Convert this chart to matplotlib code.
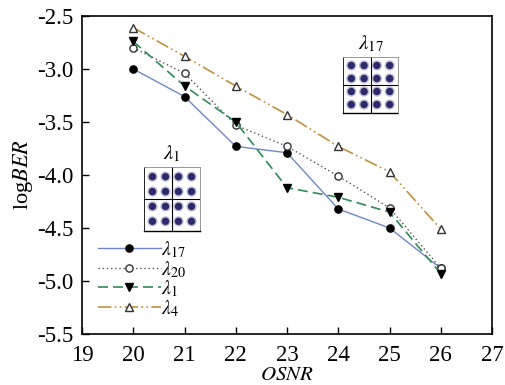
import matplotlib
matplotlib.use("Agg")
import matplotlib.pyplot as plt
import numpy as np

plt.rcParams['font.family'] = ['Liberation Serif', 'DejaVu Serif']
plt.rcParams['mathtext.fontset'] = 'stix'

osnr = [20, 21, 22, 23, 24, 25, 26]
ber_l17 = [-3.00, -3.26, -3.73, -3.79, -4.32, -4.50, -4.88]
ber_l20 = [-2.80, -3.04, -3.53, -3.73, -4.01, -4.31, -4.88]
ber_l1 = [-2.74, -3.16, -3.50, -4.12, -4.21, -4.35, -4.93]
ber_l4 = [-2.61, -2.88, -3.16, -3.43, -3.73, -3.97, -4.51]

xticks = [19, 20, 21, 22, 23, 24, 25, 26, 27]
yticks = [-2.5, -3.0, -3.5, -4.0, -4.5, -5.0, -5.5]
qam_levels = [-3, -1, 1, 3]

fig = plt.figure(figsize=(5.05, 3.85), dpi=100)
ax = fig.add_axes([82/505, 1-334/385, (492-82)/505, (334-16)/385])

ms = 5.2
ax.plot(osnr, ber_l17, color='#7088c8', lw=1.0, ls='-', marker='o', ms=ms,
        mfc='black', mec='black', label=r'$\lambda_{17}$')
ax.plot(osnr, ber_l20, color='#555555', lw=1.0, ls=(0, (1, 2)), marker='o', ms=ms,
        mfc='white', mec='#333333', label=r'$\lambda_{20}$')
ax.plot(osnr, ber_l1, color='#2e8b57', lw=1.2, ls=(0, (6, 3)), marker='v', ms=ms,
        mfc='black', mec='black', label=r'$\lambda_{1}$')
ax.plot(osnr, ber_l4, color='#c09040', lw=1.2, ls=(0, (8, 2, 1, 2, 1, 2)), marker='^', ms=ms,
        mfc='white', mec='#333333', label=r'$\lambda_{4}$')

ax.set_xlim(19, 27)
ax.set_ylim(-5.5, -2.5)
ax.set_xticks(xticks)
ax.set_yticks(yticks)
ax.set_xticklabels([str(v) for v in xticks])
ax.set_yticklabels([f'{v:.1f}' for v in yticks])
ax.tick_params(direction='in', length=5, width=1, labelsize=16.5, top=False, right=False)
ax.tick_params(axis='x', pad=8)
ax.tick_params(axis='y', pad=6)
for s in ax.spines.values():
    s.set_linewidth(1.2)

ax.set_ylabel(r'log$\mathit{BER}$', fontsize=16, labelpad=2)
ax.set_xlabel(r'$\mathit{OSNR}$', fontsize=15, labelpad=0)

leg = ax.legend(loc='upper left', bbox_to_anchor=(0.02, 0.322), frameon=False, fontsize=14.5,
                handlelength=3.1, handletextpad=0.0, labelspacing=-0.06, borderaxespad=0)

def draw_const(rect, label):
    ia = fig.add_axes(rect)
    xs = [x for x in qam_levels for y in qam_levels]
    ys = [y for x in qam_levels for y in qam_levels]
    ia.scatter(xs, ys, s=55, color='#2c2a6a', alpha=0.3, edgecolors='none')
    ia.scatter(xs, ys, s=28, color='#2c2a6a', edgecolors='none')
    ia.axhline(0, color='black', lw=0.8)
    ia.axvline(0, color='black', lw=0.8)
    ia.set_xlim(-4.3, 4.3)
    ia.set_ylim(-4.3, 4.3)
    ia.set_xticks([])
    ia.set_yticks([])
    for k, s in ia.spines.items():
        s.set_linewidth(0.6)
        s.set_color('#888888')
    ia.spines['left'].set_linestyle((0, (1, 1)))
    ia.spines['left'].set_color('black')
    ia.spines['bottom'].set_linestyle((0, (1, 1)))
    ia.spines['bottom'].set_color('black')
    ia.spines['bottom'].set_linewidth(1.0)
    ia.text(0.5, 1.04, label, transform=ia.transAxes, ha='center', va='bottom', fontsize=15)

draw_const([144/505, 1-231/385, 56/505, 64/385], r'$\lambda_{1}$')
draw_const([343/505, 1-113/385, 55/505, 56/385], r'$\lambda_{17}$')

fig.savefig('out.png', dpi=100)
